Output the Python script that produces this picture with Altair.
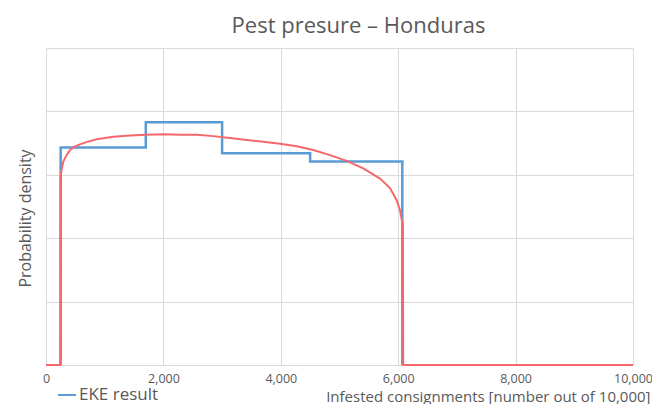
import altair as alt
import pandas as pd

# EKE step histogram (bin edges and densities)
eke_x = [250, 250, 1700, 3000, 4500, 6070]
eke_y = [0, 3.43, 3.83, 3.34, 3.21, 0]

# Fitted distribution curve
fit_x = [0, 244, 246, 260, 295, 350, 409, 480, 579, 700, 863, 1147, 1431, 1715, 1999,
         2283, 2567, 2851, 3135, 3419, 3702, 3986, 4270, 4554, 4838, 5122, 5405, 5690,
         5860, 5974, 6031, 6060, 6080, 6085, 10000]
fit_y = [0, 0, 2.94, 3.05, 3.21, 3.31, 3.39, 3.44, 3.48, 3.52, 3.56, 3.60, 3.62, 3.63,
         3.64, 3.63, 3.63, 3.61, 3.58, 3.55, 3.52, 3.49, 3.45, 3.39, 3.31, 3.22, 3.10,
         2.94, 2.79, 2.60, 2.44, 2.29, 2.20, 0, 0]

x_ticks = [0, 2000, 4000, 6000, 8000, 10000]
y_ticks = [0, 1, 2, 3, 4, 5]

eke = pd.DataFrame({"x": eke_x, "y": eke_y, "series": "EKE result"})
fit = pd.DataFrame({"x": fit_x, "y": fit_y})

FONT = "Open Sans"
GREY = "#595959"

xscale = alt.Scale(domain=[0, 10000], nice=False)
yscale = alt.Scale(domain=[0, 5], nice=False)

xaxis = alt.Axis(values=x_ticks, format=",d", labelFontSize=12.5, labelColor=GREY,
                 labelFont=FONT, labelPadding=7, labelFlush=False, ticks=False,
                 domain=False, gridColor="#d9d9d9",
                 title="Infested consignments [number out of 10,000]",
                 titleFont=FONT, titleFontSize=15, titleFontWeight="normal", titleColor=GREY,
                 titleAnchor="end", titleAlign="right", titleX=604, titleY=31,
                 titleBaseline="middle")
yaxis = alt.Axis(values=y_ticks, labels=False, ticks=False, domain=False,
                 gridColor="#d9d9d9", title="Probability density", titleFont=FONT,
                 titleFontSize=16, titleFontWeight="normal", titleColor=GREY,
                 titleX=-21, titleY=170, titleAngle=-90, titleAlign="center",
                 titleBaseline="middle")

blue = alt.Chart(eke).mark_line(interpolate="step-after", strokeWidth=2.5).encode(
    x=alt.X("x:Q", scale=xscale, axis=xaxis),
    y=alt.Y("y:Q", scale=yscale, axis=yaxis),
    color=alt.Color("series:N",
                    scale=alt.Scale(domain=["EKE result"], range=["#5b9bd5"]),
                    legend=alt.Legend(orient="none", legendX=11, legendY=337, title=None,
                                      symbolType="stroke", symbolSize=324,
                                      symbolStrokeWidth=2, labelFont=FONT,
                                      labelFontSize=17, labelColor=GREY, labelOffset=2)),
)

red = alt.Chart(fit).mark_line(color="#f4686c", strokeWidth=2).encode(
    x=alt.X("x:Q", scale=xscale),
    y=alt.Y("y:Q", scale=yscale),
)

chart = alt.layer(blue, red).properties(
    width=587, height=317,
    title=alt.TitleParams("Pest presure \u2013 Honduras", font=FONT, fontSize=22,
                          fontWeight="normal", color=GREY, dx=19, offset=10),
    autosize=alt.AutoSizeParams(type="none"),
    padding={"left": 38, "top": 40, "right": 19, "bottom": 39},
    background="white",
).configure_view(stroke=None)

chart.save("out.html", embed_options={"renderer": "svg", "actions": False})
